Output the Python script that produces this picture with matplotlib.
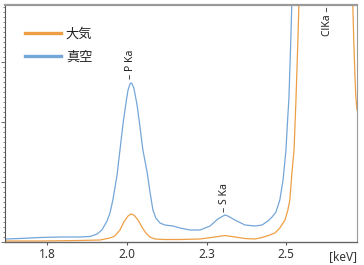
import matplotlib
matplotlib.use('Agg')
import matplotlib.pyplot as plt
from matplotlib.ticker import FixedLocator, MultipleLocator

# Energy axis [keV] and intensities
vac_kev = [1.623, 1.669, 1.731, 1.793, 1.855, 1.886, 1.908, 1.923, 1.939, 1.948,
           1.957, 1.970, 1.979, 1.988, 1.998, 2.004, 2.010, 2.013, 2.016, 2.022,
           2.032, 2.041, 2.050, 2.063, 2.072, 2.081, 2.090, 2.103, 2.118, 2.143,
           2.165, 2.196, 2.227, 2.258, 2.282, 2.304, 2.313, 2.335, 2.366, 2.397,
           2.419, 2.437, 2.450, 2.462, 2.474, 2.484, 2.493, 2.499, 2.502, 2.505,
           2.508, 2.511, 2.622, 2.720]
vac_int = [3, 3.5, 4.5, 5, 5, 5.5, 8, 12, 21, 29,
           42, 67, 92, 117, 140, 152, 158, 159, 158.5, 154,
           137, 115, 92, 70, 50, 32, 24, 19, 17, 16,
           14, 12, 12, 16, 23, 27, 26, 22, 17, 16,
           17, 21, 25, 30, 42, 62, 92, 127, 142, 172,
           202, 237, 1500, 600]

air_kev = [1.623, 1.731, 1.855, 1.917, 1.948, 1.963, 1.979, 1.991, 2.004, 2.013,
           2.022, 2.035, 2.047, 2.059, 2.072, 2.087, 2.118, 2.165, 2.227, 2.273,
           2.304, 2.335, 2.366, 2.397, 2.419, 2.443, 2.459, 2.474, 2.490, 2.499,
           2.505, 2.511, 2.518, 2.521, 2.524, 2.527, 2.530, 2.533, 2.622, 2.700,
           2.703, 2.706, 2.709, 2.713]
air_int = [1, 1, 1.5, 2, 4, 6, 12, 20, 26, 28,
           27, 22, 15, 9, 5, 3, 2.5, 2.5, 3, 5,
           6.5, 5, 3.5, 3, 4.5, 7, 9, 14, 22, 32,
           42, 67, 92, 117, 142, 172, 202, 237, 1000, 237,
           202, 172, 147, 132]

tick_pos = [1.753, 2.001, 2.248, 2.493]
tick_labels = ['1.8', '2.0', '2.3', '2.5']

peak_names = ['– P Ka', '– S Ka', 'ClKa –']
peak_kev = [2.013, 2.304, 2.622]
peak_y = [163, 30, 236]

c_air = '#EE9F45'
c_vac = '#74A6D8'


def plot_data():
    fig = plt.figure(figsize=(3.64, 2.65), dpi=100)
    ax = fig.add_axes([5 / 364, 23 / 265, 352 / 364, 237 / 265])

    ax.plot(air_kev, air_int, color=c_air, lw=0.9, label='大気')
    ax.plot(vac_kev, vac_int, color=c_vac, lw=0.9, label='真空')

    ax.set_xlim(1.623, 2.713)
    ax.set_ylim(0, 237)

    # Spines
    ax.spines['top'].set_color('#9a9a9a')
    ax.spines['top'].set_linewidth(1.6)
    ax.spines['right'].set_color('#9a9a9a')
    ax.spines['right'].set_linewidth(0.8)
    ax.spines['left'].set_color('#555555')
    ax.spines['left'].set_linewidth(0.8)
    ax.spines['bottom'].set_color('#666666')
    ax.spines['bottom'].set_linewidth(1.0)

    # Ticks
    ax.xaxis.set_major_locator(FixedLocator(tick_pos))
    ax.set_xticklabels(tick_labels, family='Noto Sans', fontsize=8.5, color='#333333')
    ax.tick_params(axis='x', length=2.5, width=0.8, color='#555555', pad=2)
    ax.yaxis.set_major_locator(MultipleLocator(60))
    ax.yaxis.set_minor_locator(MultipleLocator(5))
    ax.tick_params(axis='y', which='major', length=3, width=0.6, color='#555555', labelleft=False)
    ax.tick_params(axis='y', which='minor', length=1.5, width=0.5, color='#555555')

    ax.text(1.0, -0.035, '[keV]', transform=ax.transAxes, ha='right', va='top',
            family='Noto Sans', fontsize=8.5, color='#333333')

    # Peak labels
    for name, x, y in zip(peak_names, peak_kev, peak_y):
        va = 'bottom' if name.startswith('–') else 'top'
        ax.text(x, y, name, rotation=90, ha='center', va=va,
                family='Noto Sans', fontsize=7.5, color='#222222')

    leg = ax.legend(loc='upper left', bbox_to_anchor=(0.057, 0.905), borderaxespad=0,
                    borderpad=0, frameon=False, handlelength=2.7, handletextpad=0.4,
                    labelspacing=0.75, prop={'family': ['Noto Sans CJK JP', 'DejaVu Sans'], 'size': 9.5})
    for line in leg.get_lines():
        line.set_linewidth(2.4)
    for t in leg.get_texts():
        t.set_color('#222222')

    fig.savefig('out.png', dpi=100)


if __name__ == '__main__':
    plot_data()
